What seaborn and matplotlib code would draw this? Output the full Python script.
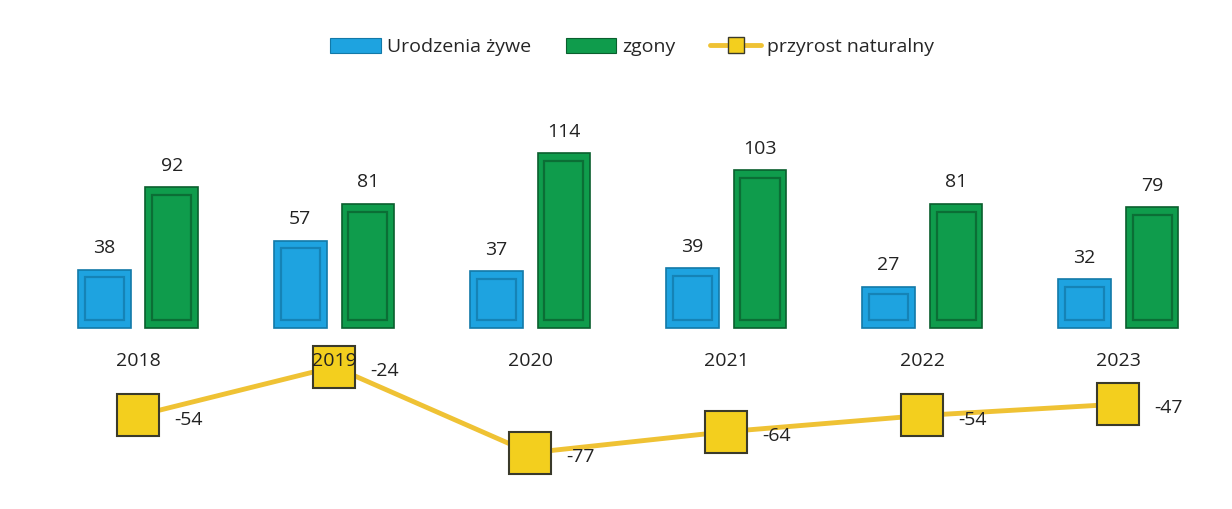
import numpy as np
import pandas as pd
import matplotlib
matplotlib.use("Agg")
import matplotlib.pyplot as plt
from matplotlib.patches import Rectangle, Patch
from matplotlib.lines import Line2D
import seaborn as sns

years = ['2018', '2019', '2020', '2021', '2022', '2023']
births = [38, 57, 37, 39, 27, 32]
deaths = [92, 81, 114, 103, 81, 79]
natural = [-54, -24, -77, -64, -54, -47]

lab_births = 'Urodzenia żywe'
lab_deaths = 'zgony'
lab_nat = 'przyrost naturalny'

sns.set_theme(style='white')
plt.rcParams['font.family'] = ['Open Sans', 'DejaVu Sans']

blue = '#1EA3E0'
blue_dark = '#1279A8'
green = '#0F9C4C'
green_dark = '#0A5F2E'
gold = '#EFC234'
mk_face = '#F3CF1E'

df = pd.DataFrame({
    'rok': years * 2,
    'wartosc': births + deaths,
    'seria': [lab_births] * len(years) + [lab_deaths] * len(years),
})

fig = plt.figure(figsize=(12.32, 5.09), dpi=100)
ax = fig.add_axes([0, 29 / 509, 1, 400 / 509])
ax2 = ax.twinx()

sns.barplot(data=df, x='rok', y='wartosc', hue='seria', order=years,
            hue_order=[lab_births, lab_deaths], palette=[blue, green],
            saturation=1, width=0.69, gap=0.22, ax=ax, legend=False,
            errorbar=None)

# bevel-like borders
for i, cont in enumerate(ax.containers):
    dark = blue_dark if i == 0 else green_dark
    for p in cont.patches:
        p.set_edgecolor(dark)
        p.set_linewidth(1.2)
        x0, y0 = p.get_x(), p.get_y()
        w, h = p.get_width(), p.get_height()
        ix = w * 0.13
        iy = 5
        ax.add_patch(Rectangle((x0 + ix, y0 + iy), w - 2 * ix, h - 2 * iy,
                               fill=False, edgecolor=dark, linewidth=1.6, alpha=0.75))
    ax.bar_label(cont, padding=9, fontsize=14, color='#222222')

xs = np.arange(len(years))
sns.lineplot(x=xs, y=natural, ax=ax2, color=gold, linewidth=3.5,
             marker='s', markersize=30, markerfacecolor=mk_face,
             markeredgecolor='#3A3A2A', markeredgewidth=1.5)
for x, v in zip(xs, natural):
    ax2.annotate(str(v), (x, v), xytext=(36, -3), textcoords='offset points',
                 ha='center', va='center', fontsize=14, color='#222222')
ax2.set_ylim(-93.8, 153)
ax2.set_yticks([])
ax2.set_ylabel('')
for s in ax2.spines.values():
    s.set_visible(False)

ax.set_ylim(-99.3, 162)
ax.set_xlim(-0.704, 5.58)
ax.set_xticks(range(len(years)))
ax.set_xticklabels(years)
ax.spines['bottom'].set_position(('data', 0))
for s in ax.spines.values():
    s.set_visible(False)
ax.tick_params(axis='x', length=0, pad=17, labelsize=14, labelcolor='#222222')
ax.set_yticks([])
ax.set_xlabel('')
ax.set_ylabel('')
ax.set_zorder(ax2.get_zorder() + 1)
ax.patch.set_visible(False)

handles = [
    Patch(facecolor=blue, edgecolor=blue_dark, linewidth=0.8),
    Patch(facecolor=green, edgecolor=green_dark, linewidth=0.8),
    Line2D([0], [0], color=gold, linewidth=3.5, marker='s', markersize=11,
           markerfacecolor=mk_face, markeredgecolor='#3A3A2A'),
]
fig.legend(handles, [lab_births, lab_deaths, lab_nat], loc='center',
           bbox_to_anchor=(0.513, 0.907), ncol=3, frameon=False, fontsize=14,
           handlelength=2.6, handleheight=0.8, columnspacing=1.8, handletextpad=0.3)

fig.savefig('out.png', dpi=100)
